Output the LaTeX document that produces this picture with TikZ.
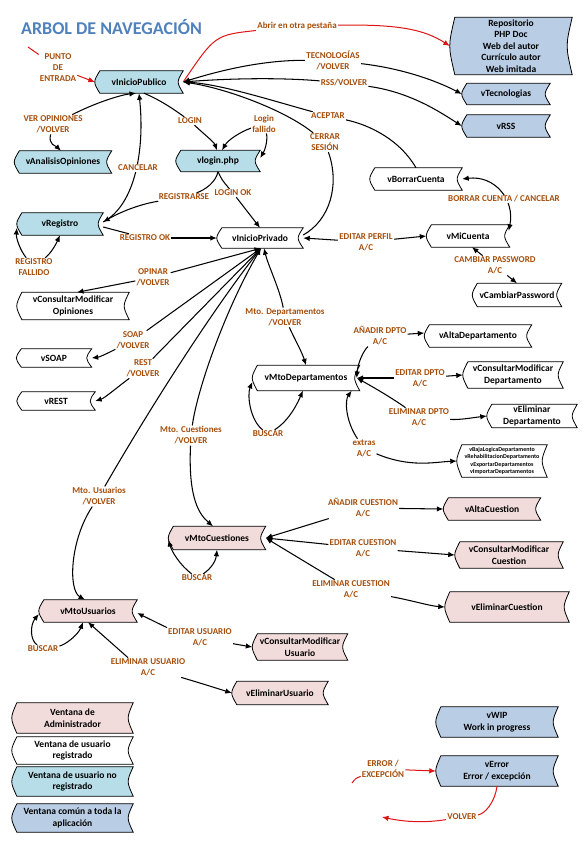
\documentclass[tikz,border=0pt]{standalone}
\usepackage{fontspec}
\setmainfont{Carlito}
\usetikzlibrary{arrows.meta}
\definecolor{lblue}{RGB}{183,222,232}
\definecolor{gblue}{RGB}{185,205,229}
\definecolor{pinkc}{RGB}{242,220,219}
\definecolor{lblc}{RGB}{165,78,12}
\definecolor{titleblue}{RGB}{79,129,189}
\definecolor{myred}{RGB}{222,20,20}
\newcommand\nodefont{\fontsize{9.5}{11.5}\selectfont\bfseries}
\newcommand\lblfont{\fontsize{9}{11}\selectfont\bfseries}
\newcommand\tinyfont{\fontsize{6}{7.5}\selectfont\bfseries}
\pgfdeclarelayer{bg}
\pgfdeclarelayer{edges}
\pgfsetlayers{bg,edges,main}
\tikzset{
  win/.style={inner sep=0pt, align=center, font=\nodefont, text=black},
  lbl/.style={inner sep=1pt, align=center, font=\lblfont, text=lblc, fill=white},
  con/.style={line width=1.05pt, draw=black},
  arr/.style={con, -{Latex[length=6.5pt,width=5.5pt]}},
  barr/.style={con, {Latex[length=6.5pt,width=5.5pt]}-{Latex[length=6.5pt,width=5.5pt]}},
  redcon/.style={line width=1pt, draw=myred},
  redarr/.style={redcon, -{Latex[length=6.5pt,width=5.5pt]}},
}
\begin{document}
\begin{tikzpicture}[x=1pt,y=-1pt]
\useasboundingbox (0,0) rectangle (586,847);

\node[font=\fontsize{18}{20}\selectfont\bfseries, text=titleblue, inner sep=0pt] (title) at (111.5,26.5) {ARBOL DE NAVEGACIÓN};

% ---- windows ----
\node[win,minimum width=88pt,minimum height=22pt] (pub) at (139,82) {vInicioPublico};
\node[win,minimum width=122pt,minimum height=57pt] (rep) at (511,46) {Repositorio\\PHP Doc\\Web del autor\\Currículo autor\\Web imitada};
\node[win,minimum width=88pt,minimum height=21pt] (tec) at (506,94) {vTecnologias};
\node[win,minimum width=88pt,minimum height=22pt] (rss) at (506,126) {vRSS};
\node[win,minimum width=97pt,minimum height=22pt] (ana) at (63,162) {vAnalisisOpiniones};
\node[win,minimum width=84pt,minimum height=21pt] (log) at (218,161) {vlogin.php};
\node[win,minimum width=86pt,minimum height=22pt] (reg) at (60,224) {vRegistro};
\node[win,minimum width=86pt,minimum height=20pt] (priv) at (260,238) {vInicioPrivado};
\node[win,minimum width=112pt,minimum height=27pt] (cmo) at (73,306) {vConsultarModificar\\Opiniones};
\node[win,minimum width=75pt,minimum height=18pt] (soap) at (54,358) {vSOAP};
\node[win,minimum width=78pt,minimum height=18pt] (rest) at (56,401) {vREST};
\node[win,minimum width=92pt,minimum height=22pt] (borr) at (416,179) {vBorrarCuenta};
\node[win,minimum width=83pt,minimum height=22pt] (mic) at (468,236) {vMiCuenta};
\node[win,minimum width=89pt,minimum height=23pt] (pass) at (517,295) {vCambiarPassword};
\node[win,minimum width=107pt,minimum height=25pt] (mdep) at (306,378) {vMtoDepartamentos};
\node[win,minimum width=107pt,minimum height=22pt] (adep) at (478,336) {vAltaDepartamento};
\node[win,minimum width=100pt,minimum height=26pt] (cdep) at (513,375) {vConsultarModificar\\Departamento};
\node[win,minimum width=90pt,minimum height=23pt] (edep) at (532,416) {vEliminar\\Departamento};
\node[win,minimum width=90pt,minimum height=32pt,font=\tinyfont] (xdep) at (502,461) {vBajaLogicaDepartamento\\vRehabilitacionDepartamento\\vExportarDepartamentos\\vImportarDepartamentos};
\node[win,minimum width=97pt,minimum height=23pt] (mcue) at (217,538) {vMtoCuestiones};
\node[win,minimum width=97pt,minimum height=22pt] (acue) at (492,509) {vAltaCuestion};
\node[win,minimum width=108pt,minimum height=26pt] (ccue) at (509,555) {vConsultarModificar\\Cuestion};
\node[win,minimum width=124pt,minimum height=30pt] (ecue) at (507,607) {vEliminarCuestion};
\node[win,minimum width=98pt,minimum height=22pt] (musu) at (88,611) {vMtoUsuarios};
\node[win,minimum width=95pt,minimum height=26pt] (cusu) at (300,647) {vConsultarModificar\\Usuario};
\node[win,minimum width=96pt,minimum height=23pt] (eusu) at (280,693) {vEliminarUsuario};
\node[win,minimum width=121pt,minimum height=30pt] (leg1) at (72.5,718) {Ventana de\\Administrador};
\node[win,minimum width=121pt,minimum height=27pt] (leg2) at (72.5,750.5) {Ventana de usuario\\registrado};
\node[win,minimum width=121pt,minimum height=29pt] (leg3) at (72.5,781.5) {Ventana de usuario no\\registrado};
\node[win,minimum width=121pt,minimum height=28pt] (leg4) at (72.5,818) {Ventana común a toda la\\aplicación};
\node[win,minimum width=122pt,minimum height=30pt] (wip) at (497,722) {vWIP\\Work in progress};
\node[win,minimum width=122pt,minimum height=30pt] (err) at (497,771) {vError\\Error / excepción};

% ---- labels ----
\node[lbl] (lpe) at (58,68) {PUNTO\\DE\\ENTRADA};
\node[lbl] (lab) at (297,26) {Abrir en otra pestaña};
\node[lbl] (ltec) at (333,60.5) {TECNOLOGÍAS\\/VOLVER};
\node[lbl] (lrss) at (344,83) {RSS/VOLVER};
\node[lbl] (lacep) at (328,116) {ACEPTAR};
\node[lbl] (lcer) at (325,142.5) {CERRAR\\SESIÓN};
\node[lbl] (llog) at (190,121) {LOGIN};
\node[lbl] (lfal) at (264,123.5) {Login\\fallido};
\node[lbl] (lcan) at (138,168) {CANCELAR};
\node[lbl] (lver) at (53,124.5) {VER OPINIONES\\/VOLVER};
\node[lbl] (lregs) at (184,197) {REGISTRARSE};
\node[lbl] (lok) at (233,193) {LOGIN OK};
\node[lbl] (lfall) at (34,267.5) {REGISTRO\\FALLIDO};
\node[lbl] (lrok) at (145,238) {REGISTRO OK};
\node[lbl] (lep) at (366,242) {EDITAR PERFIL\\A/C};
\node[lbl] (lbc) at (504,199) {BORRAR CUENTA / CANCELAR};
\node[lbl] (lcp) at (495,265.5) {CAMBIAR PASSWORD\\A/C};
\node[lbl] (lop) at (153,277.5) {OPINAR\\/VOLVER};
\node[lbl] (lsoap) at (133,340.5) {SOAP\\/VOLVER};
\node[lbl] (lrest) at (143,368.5) {REST\\/VOLVER};
\node[lbl] (lmdep) at (285,317.5) {Mto. Departamentos\\/VOLVER};
\node[lbl] (lmcue) at (191,435.5) {Mto. Cuestiones\\/VOLVER};
\node[lbl] (lmusu) at (99,496.5) {Mto. Usuarios\\/VOLVER};
\node[lbl] (lbdep) at (268,434) {BUSCAR};
\node[lbl] (ladep) at (380,336) {AÑADIR DPTO\\A/C};
\node[lbl] (ledep) at (420,378) {EDITAR DPTO\\A/C};
\node[lbl] (lelim) at (419,417.5) {ELIMINAR DPTO\\A/C};
\node[lbl] (lext) at (364,448.5) {extras\\A/C};
\node[lbl] (lbcue) at (197,578) {BUSCAR};
\node[lbl] (lacue) at (363,508) {AÑADIR CUESTION\\A/C};
\node[lbl] (lecue) at (363,548) {EDITAR CUESTION\\A/C};
\node[lbl] (lelcue) at (351,589.5) {ELIMINAR CUESTION\\A/C};
\node[lbl] (lbusu) at (43,649) {BUSCAR};
\node[lbl] (leusu) at (200,637.5) {EDITAR USUARIO\\A/C};
\node[lbl] (lelusu) at (148,667.5) {ELIMINAR USUARIO\\A/C};
\node[lbl] (lerr) at (383,769) {ERROR /\\EXCEPCIÓN};
\node[lbl] (lvol) at (462,817) {VOLVER};

% ---- window shapes ----
\begin{pgfonlayer}{bg}
\foreach \n/\c in {pub/lblue, rep/gblue, tec/gblue, rss/gblue, ana/lblue, log/lblue, reg/lblue,
  priv/white, cmo/white, soap/white, rest/white, borr/white, mic/white, pass/white,
  mdep/white, adep/white, cdep/white, edep/white, xdep/white,
  mcue/pinkc, acue/pinkc, ccue/pinkc, ecue/pinkc, musu/pinkc, cusu/pinkc, eusu/pinkc,
  leg1/pinkc, leg2/white, leg3/lblue, leg4/gblue, wip/gblue, err/gblue}{
  \filldraw[fill=\c, draw=black, line width=0.8pt]
    ([xshift=5pt]\n.north west) -- (\n.north east)
    .. controls ([xshift=-6.7pt]\n.east) .. (\n.south east)
    -- ([xshift=5pt]\n.south west)
    .. controls ([xshift=-1.7pt]\n.west) .. ([xshift=5pt]\n.north west) -- cycle;
}
\end{pgfonlayer}

% ---- connectors ----
\begin{pgfonlayer}{edges}
\coordinate (pe0) at (28,47);
\draw[redcon] (pe0) -- (lpe);
\draw[redarr] (lpe) -- (pub.west);
\draw[redcon] (pub.east) .. controls (215,35) .. (lab);
\draw[redarr] (lab) .. controls (400,24) and (425,30) .. (rep.west);

\draw[arr] (ltec) .. controls (260,60) and (215,72) .. (pub.east);
\draw[arr] (ltec) .. controls (400,68) and (435,80) .. (tec.west);
\draw[arr] (lrss) .. controls (275,77) and (220,79) .. (pub.east);
\draw[arr] (lrss) .. controls (410,92) and (440,112) .. (rss.west);
\draw[con] (borr.north) .. controls (400,140) and (370,125) .. (lacep);
\draw[arr] (lacep) .. controls (270,100) and (220,84) .. (pub.east);
\draw[con] (lcer) .. controls (340,185) and (330,220) .. ([yshift=3pt]priv.east);
\draw[arr] (lcer) .. controls (285,110) and (225,88) .. (pub.east);

\draw[con] ([xshift=5pt]pub.south) .. controls (160,100) and (172,108) .. (llog);
\draw[arr] (llog) .. controls (205,135) and (214,142) .. ([xshift=-1pt]log.north);
\draw[arr] (lfal) .. controls (240,132) and (228,140) .. ([xshift=4pt]log.north);
\draw[arr] (lfal) .. controls (268,140) and (265,150) .. ([yshift=3pt]log.east);
\draw[arr] ([yshift=2pt]reg.east) .. controls (135,205) and (145,150) .. (pub.south);
\draw[arr] (lver) .. controls (95,103) and (120,95) .. ([xshift=-3pt]pub.south);
\draw[arr] (lver) .. controls (48,145) and (56,146) .. ([xshift=-2pt]ana.north);

\draw[con] (log.south) .. controls (216,182) and (205,190) .. (lregs);
\draw[arr] (lregs) .. controls (135,205) and (115,215) .. ([yshift=2pt]reg.east);
\draw[con] (log.south) .. controls (222,180) .. (lok);
\draw[arr] (lok) -- (priv.north);
\draw[arr] (lfall) .. controls (20,250) and (16,238) .. ([yshift=-4pt]reg.west);
\draw[arr] (lfall) .. controls (52,252) and (56,244) .. (reg.south);
\draw[con] ([yshift=-3pt]reg.east) -- (lrok);
\draw[arr] (lrok) -- (priv.west);

\draw[arr] (lep) -- (priv.east);
\draw[arr] (lep) -- (mic.west);
\draw[barr] (borr.east) .. controls (495,175) and (515,200) .. ([xshift=-1pt,yshift=-6pt]mic.north east);
\draw[arr] (lcp) -- ([xshift=4pt]mic.south);
\draw[arr] (lcp) -- (pass.north);

\coordinate (pb) at ([xshift=1pt]priv.south);
\draw[arr] (lop) -- (pb);
\draw[arr] (lop) -- ([xshift=4pt]cmo.north);
\draw[arr] (lsoap) -- (pb);
\draw[arr] (lsoap) .. controls (110,352) and (100,357) .. (soap.east);
\draw[arr] (lrest) -- (pb);
\draw[arr] (lrest) .. controls (120,385) and (105,398) .. (rest.east);
\draw[arr] (lmdep) .. controls (280,290) and (268,265) .. ([xshift=4pt]priv.south);
\draw[arr] (lmdep) .. controls (295,340) and (302,352) .. (mdep.north);
\draw[arr] (lmcue) .. controls (197,390) and (225,310) .. (pb);
\draw[arr] (lmcue) .. controls (188,500) and (200,515) .. ([xshift=-4pt]mcue.north);
\draw[arr] (lmusu) .. controls (140,425) and (205,320) .. (pb);
\draw[arr] (lmusu) .. controls (70,540) and (68,590) .. ([xshift=-3pt]musu.north);

\coordinate (me) at ([xshift=-3pt]mdep.east);
\draw[arr] (lbdep) .. controls (250,420) and (247,395) .. ([yshift=-4pt]mdep.west);
\draw[arr] (lbdep) .. controls (290,420) and (298,402) .. ([xshift=-3pt]mdep.south);
\draw[arr] (ladep) -- ([yshift=3pt]adep.west);
\draw[arr] (ladep) .. controls (364,350) and (358,362) .. (me);
\draw[arr] (ledep) -- (me);
\draw[arr] (ledep) -- (cdep.west);
\draw[arr] (lelim) .. controls (395,400) and (375,388) .. (me);
\draw[arr] (lelim) .. controls (460,420) and (470,418) .. (edep.west);
\draw[arr] (lext) .. controls (345,420) and (345,400) .. ([xshift=-8pt]mdep.south east);
\draw[arr] (lext) .. controls (410,468) and (435,462) .. (xdep.west);

\coordinate (mce) at (mcue.east);
\draw[arr] (lbcue) .. controls (180,565) and (172,552) .. ([yshift=-2pt]mcue.west);
\draw[arr] (lbcue) .. controls (212,568) and (216,560) .. (mcue.south);
\draw[arr] (lacue) -- (mce);
\draw[arr] (lacue) -- (acue.west);
\draw[arr] (lecue) -- (mce);
\draw[arr] (lecue) -- (ccue.west);
\draw[arr] (lelcue) -- (mce);
\draw[arr] (lelcue) .. controls (410,600) and (430,606) .. (ecue.west);

\draw[arr] (lbusu) .. controls (30,640) and (30,625) .. ([yshift=-3pt]musu.west);
\draw[arr] (lbusu) .. controls (65,645) and (78,635) .. ([xshift=-5pt]musu.south);
\draw[arr] (leusu.north west) -- ([yshift=-2pt]musu.east);
\draw[arr] (leusu) .. controls (240,645) .. (cusu.west);
\draw[arr] ([xshift=-20pt]lelusu.north) -- (musu.south);
\draw[arr] (lelusu) .. controls (200,683) .. (eusu.west);

\coordinate (e0) at (352,783);
\draw[redcon] (e0) .. controls (356,778) .. (lerr);
\draw[redarr] (lerr) -- (err.west);
\coordinate (v1) at (382,817);
\draw[redcon] (err.south) .. controls (495,802) and (485,814) .. (lvol);
\draw[redarr] (lvol) .. controls (425,823) and (405,822) .. (v1);
\end{pgfonlayer}
\end{tikzpicture}
\end{document}
